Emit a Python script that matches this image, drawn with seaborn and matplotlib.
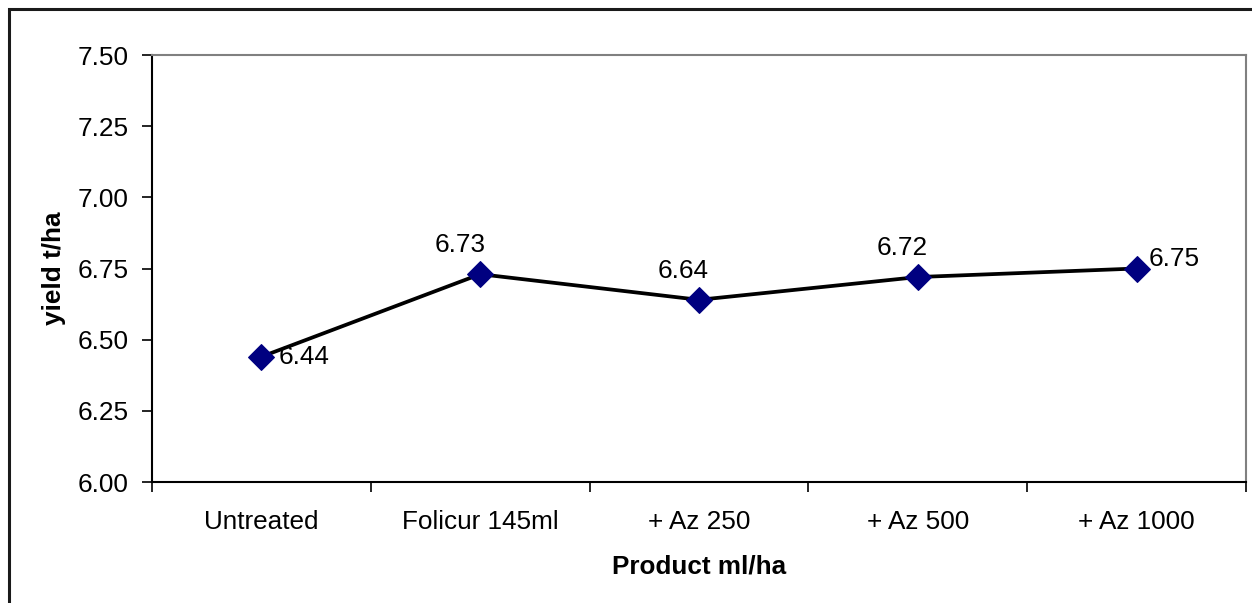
import matplotlib
matplotlib.use("Agg")
import matplotlib.pyplot as plt
from matplotlib.patches import Rectangle
import seaborn as sns
import pandas as pd

# Yield by fungicide treatment
treatments = ["Untreated", "Folicur 145ml", "+ Az 250", "+ Az 500", "+ Az 1000"]
yields = [6.44, 6.73, 6.64, 6.72, 6.75]
y_ticks = [6.00, 6.25, 6.50, 6.75, 7.00, 7.25, 7.50]

# label offsets in pixels (dx, dy, horizontal alignment)
label_offsets = [(17, 0, "left"), (-20, 29, "center"), (-16, 29, "center"),
                 (-16, 29, "center"), (12, 10, "left")]

sns.set_theme(style="white")
plt.rcParams["font.family"] = ["Liberation Sans", "DejaVu Sans"]
plt.rcParams["text.color"] = "black"
plt.rcParams["axes.labelcolor"] = "black"
plt.rcParams["xtick.color"] = "black"
plt.rcParams["ytick.color"] = "black"

FS = 18.8

df = pd.DataFrame({"pos": range(len(treatments)), "treatment": treatments, "yield": yields})

fig = plt.figure(figsize=(12.52, 6.03), dpi=100)
fig.patch.set_facecolor("white")
ax = fig.add_axes([152 / 1252, 1 - 482 / 603, (1246 - 152) / 1252, (482 - 55) / 603])

sns.lineplot(data=df, x="pos", y="yield", ax=ax, color="black", linewidth=2.7,
             marker="D", markersize=13.5, markerfacecolor="#000080",
             markeredgecolor="#000080", zorder=3)

for i, v in enumerate(yields):
    dx, dy, ha = label_offsets[i]
    ax.annotate(f"{v:.2f}", (i, v), xytext=(dx, dy), textcoords="offset pixels",
                ha=ha, va="center", fontsize=FS, color="black")

ax.set_xlim(-0.5, len(treatments) - 0.5)
ax.set_ylim(6.0, 7.5)
ax.set_yticks(y_ticks)
ax.set_yticklabels([f"{t:.2f}" for t in y_ticks], fontsize=FS)

# tick marks at category boundaries, labels at category centres
ax.set_xticks([i - 0.5 for i in range(len(treatments) + 1)])
ax.set_xticklabels([])
ax.set_xticks(range(len(treatments)), minor=True)
ax.set_xticklabels(treatments, minor=True, fontsize=FS)
ax.tick_params(axis="x", which="major", direction="out", length=7, width=1.2,
               color="black", bottom=True)
ax.tick_params(axis="x", which="minor", length=0, pad=20)
ax.tick_params(axis="y", direction="out", length=7, width=1.2, color="black",
               left=True, pad=10)

for side in ["left", "bottom"]:
    ax.spines[side].set_color("black")
    ax.spines[side].set_linewidth(1.5)
for side in ["top", "right"]:
    ax.spines[side].set_color("#808080")
    ax.spines[side].set_linewidth(1.5)
    ax.spines[side].set_visible(True)

ax.set_xlabel("Product ml/ha", fontsize=FS, fontweight="bold", labelpad=15)
ax.set_ylabel("yield t/ha", fontsize=FS, fontweight="bold", labelpad=8)

# chart frame
fig.patches.append(Rectangle((9 / 1252, -0.05), 1.2, 1 - 9 / 603 + 0.05,
                             transform=fig.transFigure, fill=False,
                             edgecolor="#1a1a1a", linewidth=2.2))

fig.savefig("out.png", dpi=100, facecolor="white")
